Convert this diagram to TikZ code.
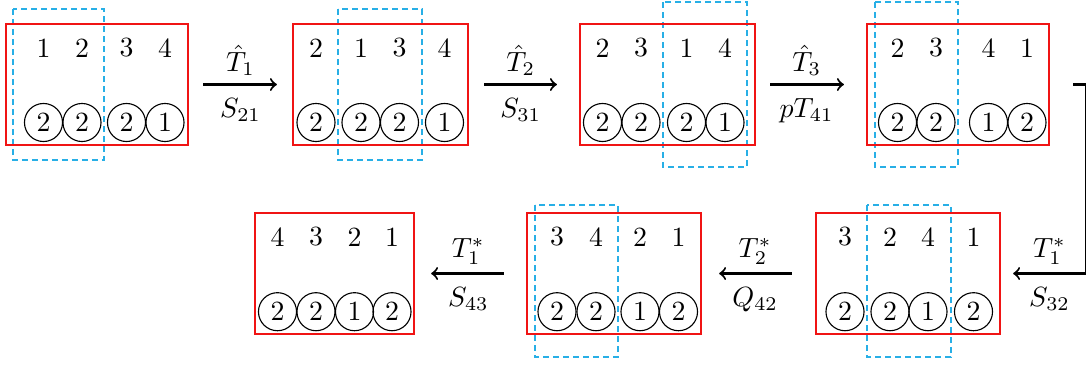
\documentclass[tikz,border=0pt]{standalone}
\definecolor{boxred}{RGB}{240,20,20}
\definecolor{dashblue}{RGB}{40,175,230}
\begin{document}
\begin{tikzpicture}[x=0.36pt,y=-0.36pt,
  redbox/.style={draw=boxred,line width=0.8pt,rectangle,minimum height=43.56pt,inner sep=0pt},
  num/.style={inner sep=0pt},
  cnum/.style={draw,circle,line width=0.4pt,minimum size=13.7pt,inner sep=0pt},
  dashbox/.style={draw=dashblue,line width=0.45pt,dash pattern=on 2.2pt off 1.4pt},
  arr/.style={->,line width=0.75pt},
  lab/.style={inner sep=2.9pt},
  lbelow/.style={inner sep=2.9pt,below=1.6pt}]
\useasboundingbox (0,0) rectangle (1086,366);

% dashed groups
\draw[dashbox] (13,9) rectangle (104,160);
\draw[dashbox] (338,9) rectangle (422,160);
\draw[dashbox] (663,2) rectangle (747,167);
\draw[dashbox] (875,2) rectangle (958,167);
\draw[dashbox] (867,205) rectangle (951,357);
\draw[dashbox] (535,205) rectangle (618,357);

% red boxes
\node[redbox,minimum width=65.52pt] (b1) at (97,84.5) {};
\node[redbox,minimum width=63pt] (b2) at (380.5,84.5) {};
\node[redbox,minimum width=63pt] (b3) at (667.5,84.5) {};
\node[redbox,minimum width=65.52pt] (b4) at (958,84.5) {};
\node[redbox,minimum width=66.24pt] (b5) at (908,273.5) {};
\node[redbox,minimum width=62.64pt] (b6) at (614,273.5) {};
\node[redbox,minimum width=57.24pt] (b7) at (334.5,273.5) {};

% box 1
\node[num] (t11) at (43.5,48) {1};
\node[num] (t12) at (82,48) {2};
\node[num] (t13) at (126.5,48) {3};
\node[num] (t14) at (165,48) {4};
\node[cnum] (c11) at (43.5,122.5) {2};
\node[cnum] (c12) at (82,122.5) {2};
\node[cnum] (c13) at (126.5,122.5) {2};
\node[cnum] (c14) at (165,122.5) {1};

% box 2
\node[num] (t21) at (316,48) {2};
\node[num] (t22) at (361,48) {1};
\node[num] (t23) at (399.5,48) {3};
\node[num] (t24) at (444.5,48) {4};
\node[cnum] (c21) at (316,122.5) {2};
\node[cnum] (c22) at (361,122.5) {2};
\node[cnum] (c23) at (399.5,122.5) {2};
\node[cnum] (c24) at (444.5,122.5) {1};

% box 3
\node[num] (t31) at (602.5,48) {2};
\node[num] (t32) at (641,48) {3};
\node[num] (t33) at (686.5,48) {1};
\node[num] (t34) at (725,48) {4};
\node[cnum] (c31) at (602.5,122.5) {2};
\node[cnum] (c32) at (641,122.5) {2};
\node[cnum] (c33) at (686.5,122.5) {2};
\node[cnum] (c34) at (725,122.5) {1};

% box 4
\node[num] (t41) at (897.5,48) {2};
\node[num] (t42) at (936,48) {3};
\node[num] (t43) at (988.5,48) {4};
\node[num] (t44) at (1027,48) {1};
\node[cnum] (c41) at (897.5,122.5) {2};
\node[cnum] (c42) at (936,122.5) {2};
\node[cnum] (c43) at (988.5,122.5) {1};
\node[cnum] (c44) at (1027,122.5) {2};

% box 5
\node[num] (t51) at (845,237) {3};
\node[num] (t52) at (890,237) {2};
\node[num] (t53) at (928,237) {4};
\node[num] (t54) at (973.5,237) {1};
\node[cnum] (c51) at (845,311.7) {2};
\node[cnum] (c52) at (890,311.7) {2};
\node[cnum] (c53) at (928,311.7) {1};
\node[cnum] (c54) at (973.5,311.7) {2};

% box 6
\node[num] (t61) at (557,237) {3};
\node[num] (t62) at (596,237) {4};
\node[num] (t63) at (640,237) {2};
\node[num] (t64) at (678.5,237) {1};
\node[cnum] (c61) at (557,311.7) {2};
\node[cnum] (c62) at (596,311.7) {2};
\node[cnum] (c63) at (640,311.7) {1};
\node[cnum] (c64) at (678.5,311.7) {2};

% box 7
\node[num] (t71) at (277.5,237) {4};
\node[num] (t72) at (316,237) {3};
\node[num] (t73) at (354.5,237) {2};
\node[num] (t74) at (392,237) {1};
\node[cnum] (c71) at (277.5,311.7) {2};
\node[cnum] (c72) at (316,311.7) {2};
\node[cnum] (c73) at (354.5,311.7) {1};
\node[cnum] (c74) at (392,311.7) {2};

% arrows
\draw[arr,shorten <=5.04pt,shorten >=5.4pt] (b1.east) -- node[lab,above]{$\hat{T}_1$} node[lbelow]{$S_{21}$} (b2.west);
\draw[arr,shorten <=5.4pt,shorten >=7.92pt] (b2.east) -- node[lab,above,pos=0.47]{$\hat{T}_2$} node[lbelow,pos=0.47]{$S_{31}$} (b3.west);
\draw[arr,shorten <=5.04pt,shorten >=7.92pt] (b3.east) -- node[lab,above,pos=0.46]{$\hat{T}_3$} node[lbelow,pos=0.46]{$pT_{41}$} (b4.west);

\coordinate (cA) at (1086,84.5);
\coordinate (cB) at (1086,273.5);
\draw[arr,shorten <=8.28pt,shorten >=4.32pt] (b4.east) -- (cA) -- (cB) -- node[lab,above,pos=0.43]{$T_1^*$} node[lbelow,pos=0.43]{$S_{32}$} (b5.east);

\draw[arr,shorten <=8.28pt,shorten >=6.12pt] (b5.west) -- node[lab,above,pos=0.53]{$T_2^*$} node[lbelow,pos=0.53]{$Q_{42}$} (b6.east);
\draw[arr,shorten <=7.92pt,shorten >=5.76pt] (b6.west) -- node[lab,above,pos=0.52]{$T_1^*$} node[lbelow,pos=0.52]{$S_{43}$} (b7.east);

\end{tikzpicture}
\end{document}
